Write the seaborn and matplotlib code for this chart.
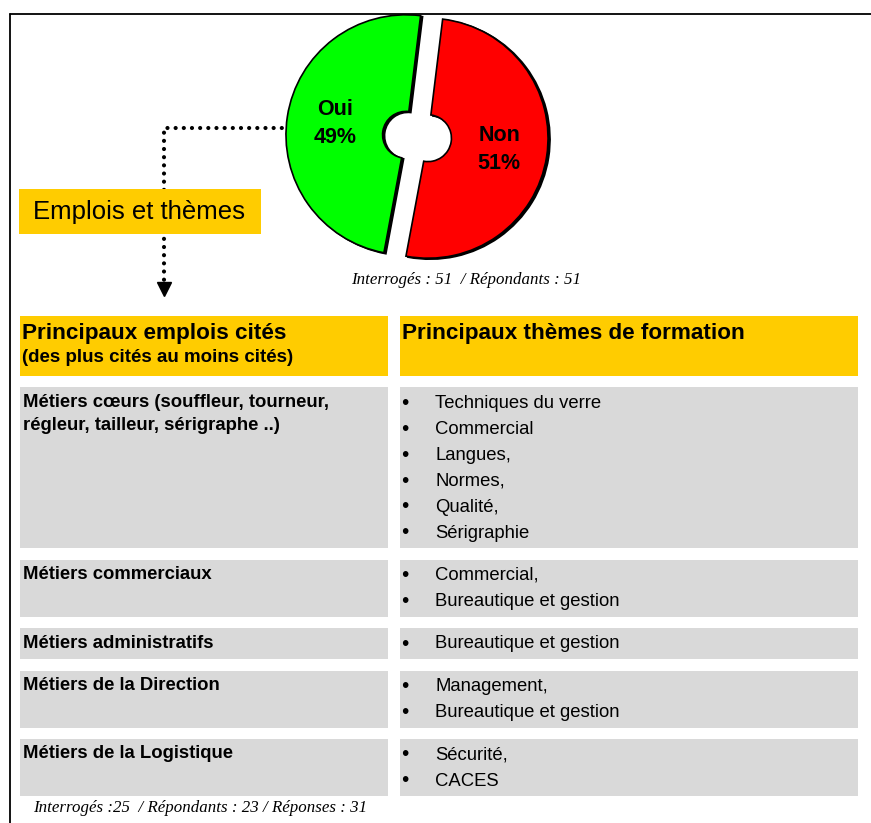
import matplotlib.pyplot as plt
import seaborn as sns
from matplotlib.patches import Rectangle

# survey answer (pie)
answers = ['Oui', 'Non']
shares = [49, 51]
answer_colors = ['#00FF00', '#FF0000']
pie_note = 'Interrogés : 51  / Répondants : 51'

# table
box_title = 'Emplois et thèmes'
header_left = 'Principaux emplois cités'
header_left_sub = '(des plus cités au moins cités)'
header_right = 'Principaux thèmes de formation'
jobs = [
    'Métiers cœurs (souffleur, tourneur,\nrégleur, tailleur, sérigraphe ..)',
    'Métiers commerciaux',
    'Métiers administratifs',
    'Métiers de la Direction',
    'Métiers de la Logistique',
]
themes = [
    ['Techniques du verre', 'Commercial', 'Langues,', 'Normes,', 'Qualité,', 'Sérigraphie'],
    ['Commercial,', 'Bureautique et gestion'],
    ['Bureautique et gestion'],
    ['Management,', 'Bureautique et gestion'],
    ['Sécurité,', 'CACES'],
]
table_note = 'Interrogés :25  / Répondants : 23 / Réponses : 31'

W, H = 871, 823
YELLOW = '#FFCC00'
GREY = '#D9D9D9'

sns.set_theme(style='white')
plt.rcParams['font.family'] = ['Liberation Sans', 'DejaVu Sans']
plt.rcParams['text.color'] = 'black'
serif = ['Liberation Serif', 'DejaVu Serif']

fig = plt.figure(figsize=(W / 100, H / 100), dpi=100)
ax = fig.add_axes([0, 0, 1, 1])
ax.set_xlim(0, W)
ax.set_ylim(H, 0)
ax.axis('off')

# outer frame (left + top)
ax.plot([9.5, 9.5], [14, H], color='black', lw=1.3)
ax.plot([9.5, W], [14, 14], color='black', lw=1.3)

# dotted connector from pie to the table
ax.plot([290, 164, 164], [127.5, 127.5, 284], color='black', lw=3.0,
        linestyle=(0, (0.01, 1.95)), dash_capstyle='round', zorder=2)
ax.plot([164], [289], marker='v', ms=9.5, color='black', zorder=2)

# "Emplois et thèmes" box
ax.add_patch(Rectangle((19, 189), 242, 45, color=YELLOW, lw=0, zorder=3))
ax.text(33, 212, box_title, fontsize=18.5, va='center', zorder=4)

ax.text(466, 280, pie_note, ha='center', va='center', family=serif,
        style='italic', fontsize=12.2)

# table headers
ax.add_patch(Rectangle((20, 316), 368, 60, color=YELLOW, lw=0))
ax.add_patch(Rectangle((400, 316), 458, 60, color=YELLOW, lw=0))
ax.text(22, 333, header_left, fontsize=16.2, fontweight='bold', va='center')
ax.text(22, 357, header_left_sub, fontsize=13.5, fontweight='bold', va='center')
ax.text(402, 333, header_right, fontsize=16.2, fontweight='bold', va='center')

# table rows
y = 387
for job, items in zip(jobs, themes):
    h = 26 * len(items) + 5
    ax.add_patch(Rectangle((20, y), 368, h, color=GREY, lw=0))
    ax.add_patch(Rectangle((400, y), 458, h, color=GREY, lw=0))
    for j, line in enumerate(job.split('\n')):
        ax.text(23, y + 15 + 23 * j, line, fontsize=13.3, fontweight='bold', va='center')
    for i, item in enumerate(items):
        yy = y + 16 + 26 * i
        ax.text(405, yy, '•', ha='center', va='center', fontsize=15)
        ax.text(435, yy, item, fontsize=13.3, va='center')
    y += h + 11.5

ax.text(33, 808, table_note, va='center', family=serif, style='italic', fontsize=12.2)

# exploded donut pie
cx, cy, R, S = 417, 136.5, 120, 160
ax_pie = fig.add_axes([(cx - S) / W, 1 - (cy + S) / H, 2 * S / W, 2 * S / H])
wedges, texts, autotexts = ax_pie.pie(
    shares, colors=answer_colors, startangle=83, explode=[0.093, 0.093],
    autopct='%1.0f%%', pctdistance=0.6,
    wedgeprops=dict(width=0.805, edgecolor='black', linewidth=1.2),
    shadow=dict(ox=0.012, oy=-0.006, shade=1.0, alpha=1),
    textprops=dict(fontsize=15.5, fontweight='bold', color='black'),
)
for t, name in zip(autotexts, answers):
    t.set_text(f'{name}\n{t.get_text()}')
    t.set_linespacing(1.45)
ax_pie.set_xlim(-S / R, S / R)
ax_pie.set_ylim(-S / R, S / R)
ax_pie.axis('off')
ax_pie.patch.set_alpha(0)

fig.savefig('out.png', dpi=100)
